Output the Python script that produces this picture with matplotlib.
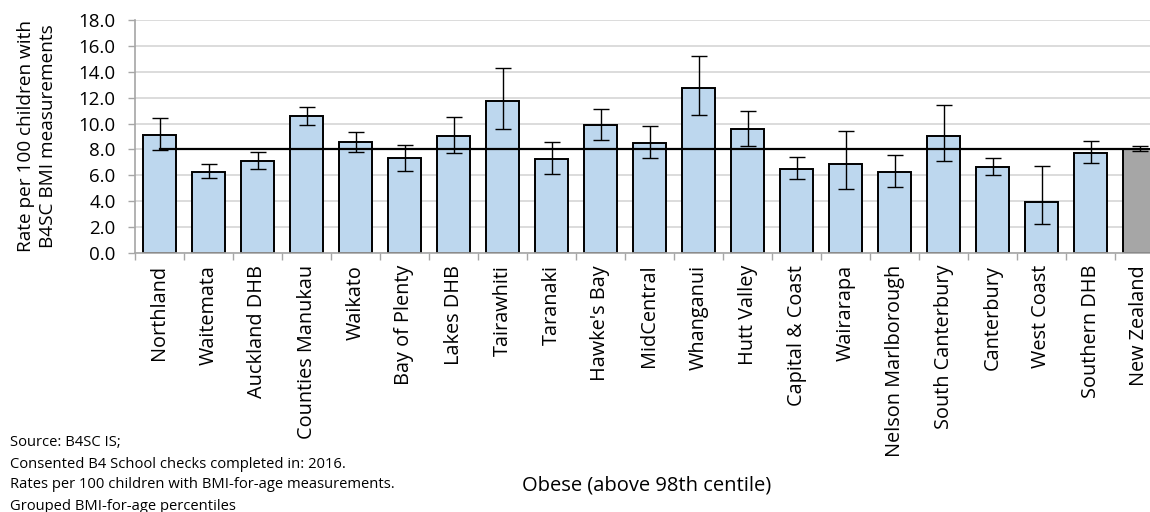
import numpy as np
import matplotlib.pyplot as plt
from matplotlib.ticker import FormatStrFormatter

plt.rcParams['font.family'] = ['Open Sans', 'DejaVu Sans']

# data
dhbs = ["Northland", "Waitemata", "Auckland DHB", "Counties Manukau", "Waikato",
        "Bay of Plenty", "Lakes DHB", "Tairawhiti", "Taranaki", "Hawke's Bay",
        "MidCentral", "Whanganui", "Hutt Valley", "Capital & Coast", "Wairarapa",
        "Nelson Marlborough", "South Canterbury", "Canterbury", "West Coast",
        "Southern DHB", "New Zealand"]
rates = [9.14, 6.28, 7.10, 10.55, 8.57, 7.31, 9.03, 11.74, 7.23, 9.86,
         8.47, 12.77, 9.55, 6.51, 6.87, 6.23, 9.01, 6.67, 3.96, 7.75, 8.05]
ci_low = [7.95, 5.77, 6.46, 9.88, 7.82, 6.36, 7.70, 9.55, 6.07, 8.73,
          7.36, 10.66, 8.29, 5.71, 4.97, 5.12, 7.08, 6.05, 2.27, 6.92, 7.85]
ci_high = [10.45, 6.87, 7.80, 11.25, 9.37, 8.34, 10.53, 14.29, 8.60, 11.12,
           9.81, 15.21, 10.99, 7.44, 9.45, 7.54, 11.40, 7.34, 6.74, 8.67, 8.26]
nz_rate = 8.05

notes = ["Source: B4SC IS;",
         "Consented B4 School checks completed in: 2016.",
         "Rates per 100 children with BMI-for-age measurements.",
         "Grouped BMI-for-age percentiles"]

x = np.arange(len(dhbs))
rates = np.array(rates)
err = [rates - np.array(ci_low), np.array(ci_high) - rates]
colors = ["#BDD7EE"] * (len(dhbs) - 1) + ["#A6A6A6"]

fig = plt.figure(figsize=(11.5, 5.12), dpi=100)
# the plot runs past the right edge of the picture, like the original crop
ax = fig.add_axes([135/1150, 1 - 253/512, 1029/1150, 233/512])

ax.bar(x, rates, width=0.67, color=colors, edgecolor="black", linewidth=1.4, zorder=2)
ax.errorbar(x, rates, yerr=err, fmt="none", ecolor="black", elinewidth=1.0,
            capsize=6, capthick=1.0, zorder=3)
ax.plot([x[0], x[-1]], [nz_rate, nz_rate], color="black", linewidth=1.6, zorder=4)

ax.set_xlim(-0.5, len(dhbs) - 0.5)
ax.set_ylim(0, 18)
ax.set_yticks(np.arange(0, 18.1, 2))
ax.yaxis.set_major_formatter(FormatStrFormatter("%.1f"))
ax.grid(axis="y", color="#D9D9D9", linewidth=1.3, zorder=0)
ax.set_axisbelow(True)

ax.set_xticks(x)
ax.set_xticklabels(dhbs, rotation=90, fontsize=14.3)
ax.set_xticks(np.arange(-0.5, len(dhbs), 1), minor=True)
ax.tick_params(axis="x", which="major", length=0, pad=8.5)
ax.tick_params(axis="x", which="minor", length=5, color="#A6A6A6", width=1)
ax.tick_params(axis="y", labelsize=13.5, length=5, color="#A6A6A6", width=1, pad=9)

for s in ["top", "right"]:
    ax.spines[s].set_visible(False)
for s in ["left", "bottom"]:
    ax.spines[s].set_color("#A6A6A6")
    ax.spines[s].set_linewidth(1.2)

fig.text(37/1150, 1 - 136/512, "Rate per 100 children with\nB4SC BMI measurements",
         rotation=90, ha="center", va="center", fontsize=13.7, linespacing=1.25)

fig.text(647/1150, 1 - 485/512, "Obese (above 98th centile)", ha="center", va="center",
         fontsize=14.5)

for i, t in enumerate(notes):
    fig.text(10/1150, 1 - (443 + 21*i)/512, t, ha="left", va="center", fontsize=10.6)

fig.savefig("out.png", dpi=100)
